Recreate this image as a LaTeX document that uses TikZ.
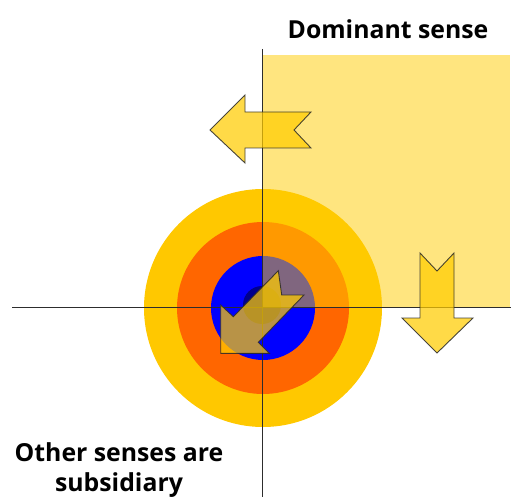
\documentclass[tikz,border=0pt]{standalone}
\usepackage{fontspec}
\setmainfont{Open Sans}
\definecolor{ringyellow}{RGB}{255,200,0}
\definecolor{ringorange}{RGB}{255,102,0}
\definecolor{ringblue}{RGB}{0,0,255}
\definecolor{ringcore}{RGB}{0,0,140}
\definecolor{gold}{RGB}{255,204,0}
\definecolor{axisgray}{RGB}{45,45,45}
\definecolor{edgegray}{RGB}{40,40,40}
\begin{document}
\begin{tikzpicture}[x=1pt,y=-1pt,
  axis/.style={draw=axisgray,line width=1.6pt},
  arrowshape/.style={fill=gold,fill opacity=0.72,draw=edgegray,draw opacity=0.85,line width=0.9pt,line join=miter},
  label/.style={font=\fontsize{24.8}{30.5}\selectfont\bfseries,align=center,text=black,inner sep=0pt}]
\useasboundingbox (0,0) rectangle (511,497);
% target circles
\fill[ringyellow] (263,308) circle (119);
\fill[ringorange] (263,308) circle (86);
\fill[ringblue] (263,308) circle (52);
\fill[ringcore] (262,305) circle (19);
% dominant quadrant
\fill[gold,fill opacity=0.5] (262,55) rectangle (510,307);
% axes
\coordinate (vt) at (262.5,49);
\coordinate (vb) at (262.5,497);
\coordinate (hl) at (12,307.5);
\coordinate (hr) at (511,307.5);
\draw[axis] (vt) -- (vb);
\draw[axis] (hl) -- (hr);
% arrows
\path[arrowshape] (210,130) -- (245,95) -- (245,112) -- (311,112) -- (294,130) -- (311,148) -- (245,148) -- (245,163) -- cycle;
\path[arrowshape] (420,253) -- (437,271) -- (454,253) -- (454,318) -- (473,318) -- (437,353) -- (402,318) -- (420,318) -- cycle;
\path[arrowshape] (220.7,305) -- (233.3,316.7) -- (278.3,270.7) -- (281.7,295) -- (304,295) -- (258.3,342.3) -- (269.3,353.3) -- (220.7,353.3) -- cycle;
% labels
\node[label] (dom) at (388,29) {Dominant sense};
\node[label] (oth) at (119,470) {Other senses are\\subsidiary};
\end{tikzpicture}
\end{document}
